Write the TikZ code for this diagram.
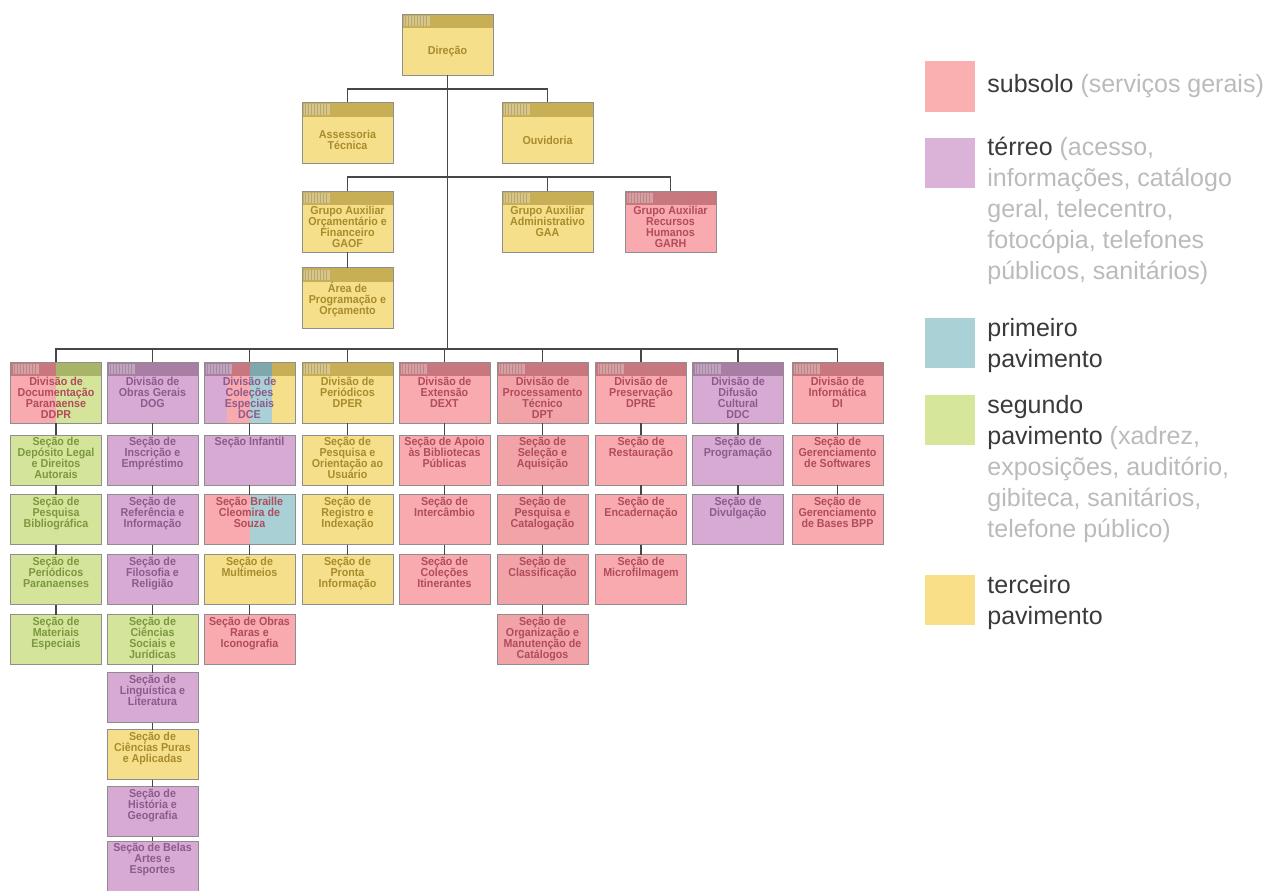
\documentclass[tikz,border=0pt]{standalone}
\usepackage{fontspec}
\newfontfamily\orgsans{Liberation Sans}
\newfontfamily\orgbox{Liberation Sans}[FakeStretch=0.93]
\usetikzlibrary{positioning}

\definecolor{pinkfill}{HTML}{F9AAAE}
\definecolor{pinkdark}{HTML}{C9777E}
\definecolor{pinktext}{HTML}{B04C5C}
\definecolor{dptfill}{HTML}{F2A3A8}
\definecolor{purplefill}{HTML}{D6AAD3}
\definecolor{purpledark}{HTML}{A87EA4}
\definecolor{purpletext}{HTML}{8E5A8C}
\definecolor{tealfill}{HTML}{A8D0D5}
\definecolor{tealdark}{HTML}{7EA8AD}
\definecolor{greenfill}{HTML}{D4E49B}
\definecolor{greendark}{HTML}{A8B468}
\definecolor{greentext}{HTML}{7C983E}
\definecolor{yellowfill}{HTML}{F6DF8A}
\definecolor{yellowdark}{HTML}{C8AE55}
\definecolor{yellowtext}{HTML}{A88C2C}
\definecolor{boxedge}{HTML}{8E8E8E}
\definecolor{conngray}{HTML}{474747}
\definecolor{legdark}{HTML}{3A3A3A}
\definecolor{leggray}{HTML}{BBBBBB}
\definecolor{pinkleg}{HTML}{FAAFB0}
\definecolor{purpleleg}{HTML}{DCB3D8}
\definecolor{tealleg}{HTML}{A9D1D6}
\definecolor{greenleg}{HTML}{D6E69B}
\definecolor{yellowleg}{HTML}{F9DF87}

% header band with the little bar pattern
\newcommand\orghead[1]{%
  \fill[#1] (path picture bounding box.north west) rectangle ([yshift=-14pt]path picture bounding box.north east);
  \fill[white,opacity=.3] ([shift={(2pt,-2pt)}]path picture bounding box.north west) rectangle +(26pt,-10pt);
  \foreach \k in {0,...,7}{\pgfmathsetmacro\bx{3+3*\k}
    \fill[black,opacity=.15] ([shift={(\bx pt,-2pt)}]path picture bounding box.north west) rectangle +(1pt,-10pt);}}
% vertical colour strips
\newcommand\orgstrip[3]{%
  \fill[#1] ([xshift=#2]path picture bounding box.north west) rectangle ([xshift=#3]path picture bounding box.south west);}
\newcommand\orgstriphead[3]{%
  \fill[#1] ([xshift=#2]path picture bounding box.north west) rectangle ([xshift=#3,yshift=-14pt]path picture bounding box.north west);}

\newcommand\orgtop[1]{\parbox[c][61pt][c]{91pt}{\centering\vspace*{14pt}#1\par}}
\newcommand\orgdiv[1]{\parbox[c][61pt][t]{91pt}{\centering\vspace*{15pt}#1\par}}
\newcommand\orgsec[1]{\parbox[c][50pt][t]{91pt}{\centering\vspace*{2.5pt}#1\par}}

\begin{document}
\begin{tikzpicture}[x=1pt, y=-1pt,
  unit/.style={draw=boxedge, line width=.8pt, inner sep=0pt, outer sep=0pt, font={\orgbox\bfseries\fontsize{11.5}{11}\selectfont}},
  pinkbox/.style={unit, fill=pinkfill, text=pinktext},
  dptbox/.style={unit, fill=dptfill, text=pinktext},
  purplebox/.style={unit, fill=purplefill, text=purpletext},
  greenbox/.style={unit, fill=greenfill, text=greentext},
  yellowbox/.style={unit, fill=yellowfill, text=yellowtext},
  headed/.style={path picture={\orghead{#1}}},
  conn/.style={draw=conngray, line width=1.8pt},
  swatch/.style={minimum size=50pt, inner sep=0pt},
  legtext/.style={font={\orgsans\fontsize{25}{31}\selectfont}, text=leggray, align=left, inner sep=0pt, anchor=north west}]

\path[fill=white,use as bounding box] (0,0) rectangle (1270,891);

% direction and staff
\node[yellowbox, headed=yellowdark] (dir) at (447.5,44.5) {\orgtop{Direção}};
\node[yellowbox, headed=yellowdark] (asst) at (347.5,133) {\orgtop{Assessoria\\Técnica}};
\node[yellowbox, headed=yellowdark] (ouv) at (547.5,133) {\orgtop{Ouvidoria}};
\node[yellowbox, headed=yellowdark] (gaof) at (347.5,221.5) {\orgdiv{Grupo Auxiliar\\Orçamentário e\\Financeiro\\GAOF}};
\node[yellowbox, headed=yellowdark] (gaa) at (547.5,221.5) {\orgdiv{Grupo Auxiliar\\Administrativo\\GAA}};
\node[pinkbox, headed=pinkdark] (garh) at (670.5,221.5) {\orgdiv{Grupo Auxiliar\\Recursos\\Humanos\\GARH}};
\node[yellowbox, headed=yellowdark] (apo) at (347.5,298) {\orgdiv{Área de\\Programação e\\Orçamento}};

% divisions
\node[unit, text=pinktext, path picture={\orgstrip{pinkfill}{0pt}{45.5pt}\orgstrip{greenfill}{45.5pt}{91pt}%
  \orghead{pinkdark}\orgstriphead{greendark}{45.5pt}{91pt}}] (ddpr) at (56,392.5)
  {\orgdiv{Divisão de\\Documentação\\Paranaense\\DDPR}};
\node[purplebox, headed=purpledark] (dog) at (152.5,392.5) {\orgdiv{Divisão de\\Obras Gerais\\DOG}};
\node[unit, text=purpletext, path picture={\orgstrip{purplefill}{0pt}{22.75pt}\orgstrip{pinkfill}{22.75pt}{45.5pt}%
  \orgstrip{tealfill}{45.5pt}{68.25pt}\orgstrip{yellowfill}{68.25pt}{91pt}\orghead{purpledark}%
  \orgstriphead{pinkdark}{28pt}{45.5pt}\orgstriphead{tealdark}{45.5pt}{68.25pt}\orgstriphead{yellowdark}{68.25pt}{91pt}}]
  (dce) at (249.5,392.5) {\orgdiv{Divisão de\\Coleções\\Especiais\\DCE}};
\node[yellowbox, headed=yellowdark] (dper) at (347.5,392.5) {\orgdiv{Divisão de\\Periódicos\\DPER}};
\node[pinkbox, headed=pinkdark] (dext) at (444.5,392.5) {\orgdiv{Divisão de\\Extensão\\DEXT}};
\node[dptbox, headed=pinkdark] (dpt) at (542.5,392.5) {\orgdiv{Divisão de\\Processamento\\Técnico\\DPT}};
\node[pinkbox, headed=pinkdark] (dpre) at (641,392.5) {\orgdiv{Divisão de\\Preservação\\DPRE}};
\node[purplebox, headed=purpledark] (ddc) at (738,392.5) {\orgdiv{Divisão de\\Difusão\\Cultural\\DDC}};
\node[pinkbox, headed=pinkdark] (di) at (837.5,392.5) {\orgdiv{Divisão de\\Informática\\DI}};

% sections
\node[greenbox] (ddpr1) at (56,460) {\orgsec{Seção de\\Depósito Legal\\e Direitos\\Autorais}};
\node[greenbox] (ddpr2) at (56,519.5) {\orgsec{Seção de\\Pesquisa\\Bibliográfica}};
\node[greenbox] (ddpr3) at (56,579.5) {\orgsec{Seção de\\Periódicos\\Paranaenses}};
\node[greenbox] (ddpr4) at (56,639.5) {\orgsec{Seção de\\Materiais\\Especiais}};

\node[purplebox] (dog1) at (152.5,460) {\orgsec{Seção de\\Inscrição e\\Empréstimo}};
\node[purplebox] (dog2) at (152.5,519.5) {\orgsec{Seção de\\Referência e\\Informação}};
\node[purplebox] (dog3) at (152.5,579.5) {\orgsec{Seção de\\Filosofia e\\Religião}};
\node[greenbox] (dog4) at (152.5,639.5) {\orgsec{Seção de\\Ciências\\Sociais e\\Jurídicas}};
\node[purplebox] (dog5) at (152.5,697.5) {\orgsec{Seção de\\Linguística e\\Literatura}};
\node[yellowbox] (dog6) at (152.5,754.5) {\orgsec{Seção de\\Ciências Puras\\e Aplicadas}};
\node[purplebox] (dog7) at (152.5,811.5) {\orgsec{Seção de\\História e\\Geografia}};
\node[purplebox] (dog8) at (152.5,866) {\orgsec{Seção de Belas\\Artes e\\Esportes}};

\node[purplebox] (dce1) at (249.5,460) {\orgsec{Seção Infantil}};
\node[unit, text=pinktext, path picture={\orgstrip{pinkfill}{0pt}{45.5pt}\orgstrip{tealfill}{45.5pt}{91pt}}]
  (dce2) at (249.5,519.5) {\orgsec{Seção Braille\\Cleomira de\\Souza}};
\node[yellowbox] (dce3) at (249.5,579.5) {\orgsec{Seção de\\Multimeios}};
\node[pinkbox] (dce4) at (249.5,639.5) {\orgsec{Seção de Obras\\Raras e\\Iconografia}};

\node[yellowbox] (dper1) at (347.5,460) {\orgsec{Seção de\\Pesquisa e\\Orientação ao\\Usuário}};
\node[yellowbox] (dper2) at (347.5,519.5) {\orgsec{Seção de\\Registro e\\Indexação}};
\node[yellowbox] (dper3) at (347.5,579.5) {\orgsec{Seção de\\Pronta\\Informação}};

\node[pinkbox] (dext1) at (444.5,460) {\orgsec{Seção de Apoio\\às Bibliotecas\\Públicas}};
\node[pinkbox] (dext2) at (444.5,519.5) {\orgsec{Seção de\\Intercâmbio}};
\node[pinkbox] (dext3) at (444.5,579.5) {\orgsec{Seção de\\Coleções\\Itinerantes}};

\node[dptbox] (dpt1) at (542.5,460) {\orgsec{Seção de\\Seleção e\\Aquisição}};
\node[dptbox] (dpt2) at (542.5,519.5) {\orgsec{Seção de\\Pesquisa e\\Catalogação}};
\node[dptbox] (dpt3) at (542.5,579.5) {\orgsec{Seção de\\Classificação}};
\node[dptbox] (dpt4) at (542.5,639.5) {\orgsec{Seção de\\Organização e\\Manutenção de\\Catálogos}};

\node[pinkbox] (dpre1) at (641,460) {\orgsec{Seção de\\Restauração}};
\node[pinkbox] (dpre2) at (641,519.5) {\orgsec{Seção de\\Encadernação}};
\node[pinkbox] (dpre3) at (641,579.5) {\orgsec{Seção de\\Microfilmagem}};

\node[purplebox] (ddc1) at (738,460) {\orgsec{Seção de\\Programação}};
\node[purplebox] (ddc2) at (738,519.5) {\orgsec{Seção de\\Divulgação}};

\node[pinkbox] (di1) at (837.5,460) {\orgsec{Seção de\\Gerenciamento\\de Softwares}};
\node[pinkbox] (di2) at (837.5,519.5) {\orgsec{Seção de\\Gerenciamento\\de Bases BPP}};

% connectors
\coordinate (busA) at (447.5,89);
\coordinate (busB) at (447.5,177);
\coordinate (busC) at (447.5,349);
\path[conn] (dir) edge (busC);
\draw[conn] (asst.north) -- (asst.north |- busA) -- (ouv.north |- busA) -- (ouv.north);
\draw[conn] (gaof.north) -- (gaof.north |- busB) -- (garh.north |- busB) -- (garh.north);
\draw[conn] (gaa.north) -- (gaa.north |- busB);
\draw[conn] (ddpr.north) -- (ddpr.north |- busC) -- (di.north |- busC) -- (di.north);
\foreach \d in {dog,dce,dper,dext,dpt,dpre,ddc}
  \draw[conn] (\d.north) -- (\d.north |- busC);
\path[conn]
  (gaof) edge (apo)
  (ddpr) edge (ddpr1) (ddpr1) edge (ddpr2) (ddpr2) edge (ddpr3) (ddpr3) edge (ddpr4)
  (dog) edge (dog1) (dog1) edge (dog2) (dog2) edge (dog3) (dog3) edge (dog4)
  (dog4) edge (dog5) (dog5) edge (dog6) (dog6) edge (dog7) (dog7) edge (dog8)
  (dce) edge (dce1) (dce1) edge (dce2) (dce2) edge (dce3) (dce3) edge (dce4)
  (dper) edge (dper1) (dper1) edge (dper2) (dper2) edge (dper3)
  (dext) edge (dext1) (dext1) edge (dext2) (dext2) edge (dext3)
  (dpt) edge (dpt1) (dpt1) edge (dpt2) (dpt2) edge (dpt3) (dpt3) edge (dpt4)
  (dpre) edge (dpre1) (dpre1) edge (dpre2) (dpre2) edge (dpre3)
  (ddc) edge (ddc1) (ddc1) edge (ddc2)
  (di) edge (di1) (di1) edge (di2);

% legend
\node[swatch, fill=pinkleg] (kSub) at (950,86.5) {};
\node[legtext, right=12pt of kSub] (tSub) {\textcolor{legdark}{subsolo} (serviços gerais)};
\node[swatch, fill=purpleleg] (kTer) at (950,162.5) {};
\node[legtext] (tTer) at ([xshift=12pt]kTer.north east)
  {\textcolor{legdark}{térreo} (acesso,\\informações, catálogo\\geral, telecentro,\\fotocópia, telefones\\públicos, sanitários)};
\node[swatch, fill=tealleg] (kPri) at (950,343) {};
\node[legtext, text=legdark] (tPri) at ([xshift=12pt]kPri.north east) {primeiro\\pavimento};
\node[swatch, fill=greenleg] (kSeg) at (950,420) {};
\node[legtext] (tSeg) at ([xshift=12pt]kSeg.north east)
  {\textcolor{legdark}{segundo}\\\textcolor{legdark}{pavimento} (xadrez,\\exposições, auditório,\\gibiteca, sanitários,\\telefone público)};
\node[swatch, fill=yellowleg] (kTrc) at (950,600) {};
\node[legtext, text=legdark] (tTrc) at ([xshift=12pt]kTrc.north east) {terceiro\\pavimento};
\end{tikzpicture}
\end{document}
